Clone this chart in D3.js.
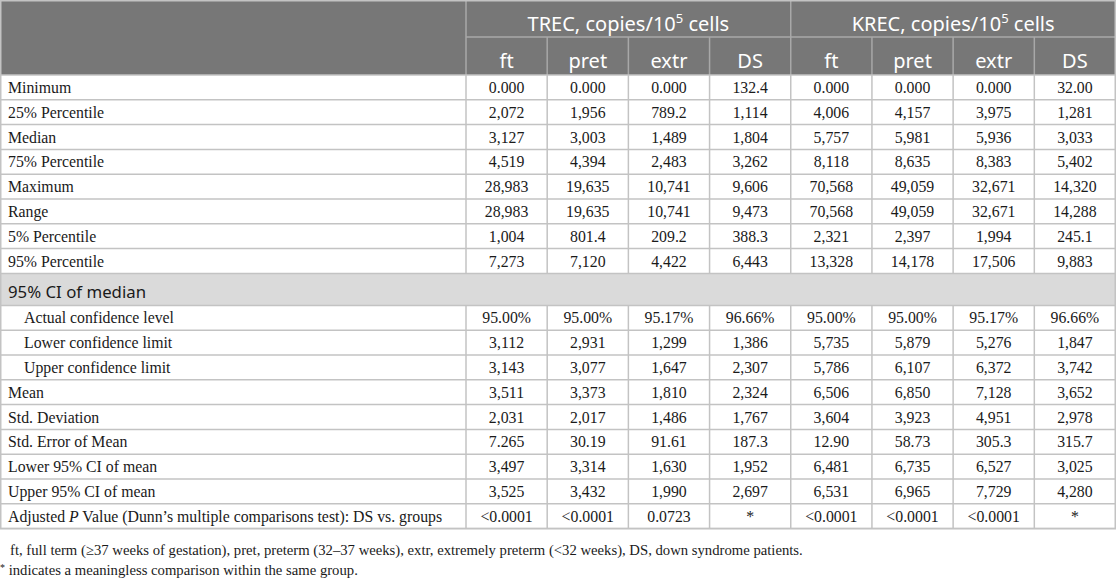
<!DOCTYPE html>
<html>
<head>
<meta charset="utf-8">
<script src="https://cdn.jsdelivr.net/npm/d3@7"></script>
<style>
  body { margin: 0; background: #fff; }
  .cell-text { font-family: "Liberation Serif", "Times New Roman", serif; font-size: 15.8px; fill: #1a1a1a; }
  .head-text { font-family: "Noto Sans", "Open Sans", sans-serif; font-size: 20px; fill: #fff; }
  .section-text { font-family: "Noto Sans", "Open Sans", sans-serif; font-size: 16.8px; fill: #1a1a1a; }
  .note-text { font-family: "Liberation Serif", "Times New Roman", serif; font-size: 14.7px; fill: #1a1a1a; }
</style>
</head>
<body>
<div id="table"></div>
<script>
const width = 1116;
const height = 579;

// Column groups and sub columns
const markers = ["TREC", "KREC"];
const groups = ["ft", "pret", "extr", "DS"];

// Row labels (section row handled separately)
const rowLabels = [
  "Minimum", "25% Percentile", "Median", "75% Percentile", "Maximum", "Range",
  "5% Percentile", "95% Percentile",
  "Actual confidence level", "Lower confidence limit", "Upper confidence limit",
  "Mean", "Std. Deviation", "Std. Error of Mean", "Lower 95% CI of mean",
  "Upper 95% CI of mean", "Adjusted P Value (Dunn’s multiple comparisons test): DS vs. groups"
];
const sectionLabel = "95% CI of median";
const sectionAfter = 8;           // section row sits before row index 8
const indentedRows = [8, 9, 10];

// Values, one array per column
const trecFt   = ["0.000", "2,072", "3,127", "4,519", "28,983", "28,983", "1,004", "7,273", "95.00%", "3,112", "3,143", "3,511", "2,031", "7.265", "3,497", "3,525", "<0.0001"];
const trecPret = ["0.000", "1,956", "3,003", "4,394", "19,635", "19,635", "801.4", "7,120", "95.00%", "2,931", "3,077", "3,373", "2,017", "30.19", "3,314", "3,432", "<0.0001"];
const trecExtr = ["0.000", "789.2", "1,489", "2,483", "10,741", "10,741", "209.2", "4,422", "95.17%", "1,299", "1,647", "1,810", "1,486", "91.61", "1,630", "1,990", "0.0723"];
const trecDS   = ["132.4", "1,114", "1,804", "3,262", "9,606", "9,473", "388.3", "6,443", "96.66%", "1,386", "2,307", "2,324", "1,767", "187.3", "1,952", "2,697", "*"];
const krecFt   = ["0.000", "4,006", "5,757", "8,118", "70,568", "70,568", "2,321", "13,328", "95.00%", "5,735", "5,786", "6,506", "3,604", "12.90", "6,481", "6,531", "<0.0001"];
const krecPret = ["0.000", "4,157", "5,981", "8,635", "49,059", "49,059", "2,397", "14,178", "95.00%", "5,879", "6,107", "6,850", "3,923", "58.73", "6,735", "6,965", "<0.0001"];
const krecExtr = ["0.000", "3,975", "5,936", "8,383", "32,671", "32,671", "1,994", "17,506", "95.17%", "5,276", "6,372", "7,128", "4,951", "305.3", "6,527", "7,729", "<0.0001"];
const krecDS   = ["32.00", "1,281", "3,033", "5,402", "14,320", "14,288", "245.1", "9,883", "96.66%", "1,847", "3,742", "3,652", "2,978", "315.7", "3,025", "4,280", "*"];

const footnotes = [
  "ft, full term (≥37 weeks of gestation), pret, preterm (32–37 weeks), extr, extremely preterm (<32 weeks), DS, down syndrome patients.",
  "indicates a meaningless comparison within the same group."
];

const columns = [trecFt, trecPret, trecExtr, trecDS, krecFt, krecPret, krecExtr, krecDS];
const colKeys = markers.flatMap(m => groups.map(g => m + "-" + g));

// Layout
const labelWidth = 466;
const headH = [37, 38];
const rowH = 24.8;
const sectionH = 32;
const gridColor = "#c3c3c3";
const headBg = "#777777";
const headLine = "#a8a8a8";
const sectionBg = "#dadada";

const svg = d3.select("#table")
  .append("svg")
  .attr("width", width)
  .attr("height", height);

const xScale = d3.scaleBand()
  .domain(colKeys)
  .range([labelWidth, width - 0.5]);

const xGroup = d3.scaleBand()
  .domain(markers)
  .range([labelWidth, width - 0.5]);

// row y positions
const headTop = 0;
const bodyTop = headH[0] + headH[1];
const rowY = i => bodyTop + i * rowH + (i >= sectionAfter ? sectionH : 0);
const sectionY = bodyTop + sectionAfter * rowH;
const tableBottom = rowY(rowLabels.length);

// Header background
svg.append("rect")
  .attr("x", 0).attr("y", headTop)
  .attr("width", width).attr("height", bodyTop)
  .attr("fill", headBg);

// header lines
const headG = svg.append("g").attr("stroke", headLine).attr("stroke-width", 1.5);
headG.append("line")
  .attr("x1", labelWidth).attr("x2", width)
  .attr("y1", headH[0]).attr("y2", headH[0]);
headG.selectAll(".vk")
  .data(colKeys)
  .join("line")
  .attr("x1", d => xScale(d)).attr("x2", d => xScale(d))
  .attr("y1", (d, i) => i % 4 === 0 ? 0 : headH[0])
  .attr("y2", bodyTop);

// group titles
const groupTitle = svg.selectAll(".grp")
  .data(markers)
  .join("text")
  .attr("class", "head-text")
  .attr("x", d => xGroup(d) + xGroup.bandwidth() / 2)
  .attr("y", 31)
  .attr("text-anchor", "middle");
groupTitle.append("tspan").text(d => d + ", copies/10");
groupTitle.append("tspan").attr("font-size", "13px").attr("dy", -8).text("5");
groupTitle.append("tspan").attr("dy", 8).text(" cells");

svg.selectAll(".sub")
  .data(colKeys)
  .join("text")
  .attr("class", "head-text")
  .attr("x", d => xScale(d) + xScale.bandwidth() / 2)
  .attr("y", headH[0] + 31)
  .attr("text-anchor", "middle")
  .text(d => d.split("-")[1]);

// Section row
svg.append("rect")
  .attr("x", 0).attr("y", sectionY)
  .attr("width", width).attr("height", sectionH)
  .attr("fill", sectionBg);
svg.append("text")
  .attr("class", "section-text")
  .attr("x", 8)
  .attr("y", sectionY + 25)
  .text(sectionLabel);

// body grid
const grid = svg.append("g").attr("stroke", gridColor).attr("stroke-width", 1.5);
const hLines = d3.range(rowLabels.length + 1).map(rowY).concat([sectionY]);
grid.selectAll(".h")
  .data(hLines)
  .join("line")
  .attr("x1", 0).attr("x2", width)
  .attr("y1", d => d).attr("y2", d => d);

const bodySegments = [[bodyTop, sectionY], [sectionY + sectionH, tableBottom]];
bodySegments.forEach(([y0, y1]) => {
  grid.selectAll(null)
    .data(colKeys)
    .join("line")
    .attr("x1", d => xScale(d)).attr("x2", d => xScale(d))
    .attr("y1", y0).attr("y2", y1);
});

// outer border
svg.append("rect")
  .attr("x", 0.75).attr("y", 0.75)
  .attr("width", width - 1.5).attr("height", tableBottom - 0.75)
  .attr("fill", "none")
  .attr("stroke", gridColor)
  .attr("stroke-width", 1.5);

// row labels
const labels = svg.selectAll(".lbl")
  .data(rowLabels)
  .join("text")
  .attr("class", "cell-text")
  .attr("x", (d, i) => indentedRows.includes(i) ? 24 : 8)
  .attr("y", (d, i) => rowY(i) + rowH / 2 + 5.5);

labels.each(function (d) {
  const t = d3.select(this);
  if (d.startsWith("Adjusted P")) {
    t.append("tspan").text("Adjusted ");
    t.append("tspan").attr("font-style", "italic").text("P");
    t.append("tspan").text(d.slice("Adjusted P".length));
  } else {
    t.text(d);
  }
});

// values
columns.forEach((col, c) => {
  svg.selectAll(null)
    .data(col)
    .join("text")
    .attr("class", "cell-text")
    .attr("x", xScale(colKeys[c]) + xScale.bandwidth() / 2)
    .attr("y", (d, i) => rowY(i) + rowH / 2 + 5.5)
    .attr("text-anchor", "middle")
    .text(d => d);
});

// footnotes
svg.append("text")
  .attr("class", "note-text")
  .attr("x", 10)
  .attr("y", tableBottom + 26)
  .text(footnotes[0]);

const note2 = svg.append("text")
  .attr("class", "note-text")
  .attr("x", 0)
  .attr("y", tableBottom + 46);
note2.append("tspan").attr("font-size", "10px").attr("dy", -4).text("*");
note2.append("tspan").attr("dy", 4).text(" " + footnotes[1]);
</script>
</body>
</html>
